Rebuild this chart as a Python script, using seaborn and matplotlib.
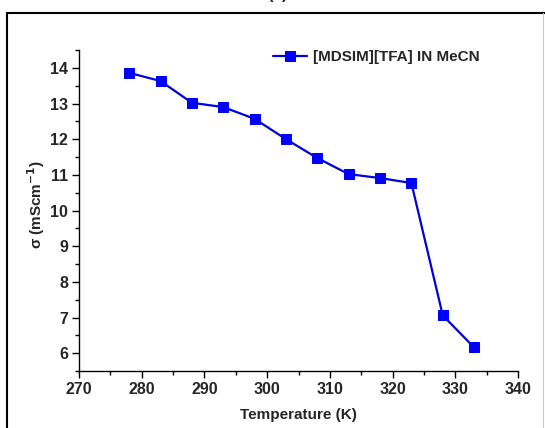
import matplotlib
matplotlib.use("Agg")
import matplotlib.pyplot as plt
from matplotlib.lines import Line2D
from matplotlib.ticker import MultipleLocator
import seaborn as sns
import pandas as pd

temperature = [278, 283, 288, 293, 298, 303, 308, 313, 318, 323, 328, 333]
conductivity = [13.86, 13.63, 13.02, 12.90, 12.57, 12.00, 11.47, 11.02, 10.91, 10.77, 7.06, 6.16]
series_name = "[MDSIM][TFA] IN MeCN"

df = pd.DataFrame({"T": temperature, "sigma": conductivity, "label": series_name})

sns.set_theme(style="ticks")
plt.rcParams["font.family"] = ["Liberation Sans", "DejaVu Sans"]
plt.rcParams["font.weight"] = "bold"
plt.rcParams["axes.labelweight"] = "bold"
plt.rcParams["mathtext.default"] = "bf"

fig = plt.figure(figsize=(5.45, 4.28), dpi=100)
ax = fig.add_axes([79 / 545, 57 / 428, 439 / 545, 321 / 428])

sns.lineplot(data=df, x="T", y="sigma", hue="label", palette=["#0000e0"],
             marker="s", markersize=6.5, markerfacecolor="#0000ff",
             markeredgecolor="#0000ff", linewidth=1.6, ax=ax)

ax.set_xlim(270, 340)
ax.set_ylim(5.5, 14.5)
ax.xaxis.set_major_locator(MultipleLocator(10))
ax.xaxis.set_minor_locator(MultipleLocator(5))
ax.yaxis.set_major_locator(MultipleLocator(1))
ax.yaxis.set_minor_locator(MultipleLocator(0.5))
ax.tick_params(which="major", length=5, width=1, color="black", labelsize=11.5, pad=3)
ax.tick_params(which="minor", length=3, width=1, color="black")
for lab in ax.get_xticklabels() + ax.get_yticklabels():
    lab.set_fontweight("bold")
for side in ("top", "right"):
    ax.spines[side].set_visible(False)
for side in ("left", "bottom"):
    ax.spines[side].set_color("black")
    ax.spines[side].set_linewidth(1)

ax.set_xlabel("Temperature (K)", fontsize=11, fontweight="bold")
ax.set_ylabel(r"σ (mScm$^{-1}$)", fontsize=11, fontweight="bold")
ax.xaxis.set_label_coords(0.5, -37 / 321)
ax.yaxis.set_label_coords(-32 / 439, 0.52)

leg = ax.legend(loc="center left", bbox_to_anchor=(188 / 439, 1 - 7 / 321), frameon=False,
                fontsize=11, handlelength=2.2, handletextpad=0.4, borderaxespad=0)
for t in leg.get_texts():
    t.set_fontweight("bold")

# panel frame and tag
fig.add_artist(Line2D([7 / 545, 1.0], [1 - 13 / 428, 1 - 13 / 428], color="black", lw=1.5))
fig.add_artist(Line2D([7 / 545, 7 / 545], [0, 1 - 13 / 428], color="black", lw=1.5))
fig.add_artist(Line2D([543 / 545, 543 / 545], [0, 1 - 13 / 428], color="#cccccc", lw=0.8))
fig.text(277 / 545, 1 + 1 / 428, "(a)", ha="center", va="baseline", fontsize=12)

fig.savefig("out.png", dpi=100)
